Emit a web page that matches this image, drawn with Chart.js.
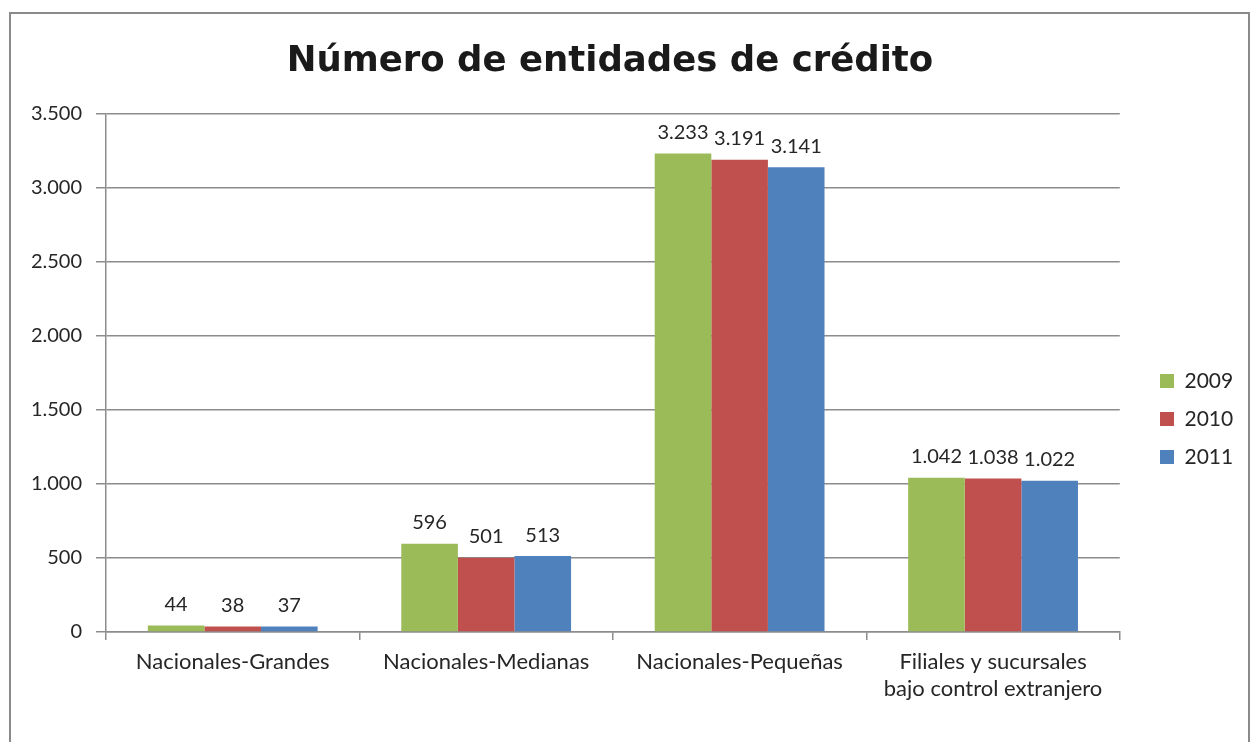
<!DOCTYPE html>
<html>
<head>
<meta charset="utf-8">
<script src="https://cdn.jsdelivr.net/npm/chart.js@4.4.0/dist/chart.umd.min.js"></script>
<style>
    html, body { margin: 0; padding: 0; background: #fff; }
    body { width: 1257px; height: 742px; position: relative; overflow: hidden; }
    #frame { position: absolute; left: 9px; top: 12px; width: 1237px; height: 760px; border: 2px solid #8a8a8a; }
    #wrap { position: absolute; left: 0; top: 0; width: 1257px; height: 742px; }
</style>
</head>
<body>
<div id="frame"></div>
<div id="wrap"><canvas id="barChart"></canvas></div>
<script>
// Datos del gráfico
const categories = [
    'Nacionales-Grandes',
    'Nacionales-Medianas',
    'Nacionales-Pequeñas',
    ['Filiales y sucursales', 'bajo control extranjero']
];
const years = ['2009', '2010', '2011'];
const values2009 = [44, 596, 3233, 1042];
const values2010 = [38, 501, 3191, 1038];
const values2011 = [37, 513, 3141, 1022];
const yTicks = [0, 500, 1000, 1500, 2000, 2500, 3000, 3500];

const colors = ['#9BBB59', '#C0504D', '#4F81BD'];
const FONT = 'Lato, "Open Sans", sans-serif';

// 3.233 style number
function fmt(v) {
    return String(v).replace(/\B(?=(\d{3})+(?!\d))/g, '.');
}

// value labels above bars
const barLabels = {
    id: 'barLabels',
    afterDatasetsDraw(chart) {
        const ctx = chart.ctx;
        ctx.save();
        ctx.font = '20px ' + FONT;
        ctx.fillStyle = '#262626';
        ctx.textAlign = 'center';
        ctx.textBaseline = 'bottom';
        chart.data.datasets.forEach((ds, i) => {
            chart.getDatasetMeta(i).data.forEach((bar, j) => {
                ctx.fillText(fmt(ds.data[j]), bar.x, bar.y - 11);
            });
        });
        ctx.restore();
    }
};

// move legend to where the original has it
const legendShift = {
    id: 'legendShift',
    afterLayout(chart) {
        const l = chart.legend;
        const dx = 1143 - l.left;
        const dy = 48;
        l.left += dx; l.right += dx;
        l.top += dy; l.bottom += dy;
    }
};

const ctx = document.getElementById('barChart').getContext('2d');
new Chart(ctx, {
    type: 'bar',
    data: {
        labels: categories,
        datasets: [
            { label: years[0], data: values2009, backgroundColor: colors[0] },
            { label: years[1], data: values2010, backgroundColor: colors[1] },
            { label: years[2], data: values2011, backgroundColor: colors[2] }
        ]
    },
    options: {
        responsive: true,
        maintainAspectRatio: false,
        animation: false,
        datasets: {
            bar: { barPercentage: 1, categoryPercentage: 0.67 }
        },
        layout: { padding: { left: 0, right: 37, top: 0, bottom: 0 } },
        plugins: {
            title: {
                display: true,
                text: 'Número de entidades de crédito',
                color: '#1a1a1a',
                font: { family: '"DejaVu Sans", sans-serif', size: 35.5, weight: 'bold' },
                padding: { top: 40, bottom: 31.4 }
            },
            legend: {
                position: 'right',
                labels: {
                    boxWidth: 14,
                    boxHeight: 14,
                    padding: 17,
                    color: '#262626',
                    font: { family: FONT, size: 21 }
                }
            },
            tooltip: { enabled: false }
        },
        scales: {
            x: {
                afterFit: s => { s.height = 110; },
                grid: {
                    drawOnChartArea: false,
                    drawTicks: true,
                    tickLength: 8,
                    color: '#8c8c8c',
                    lineWidth: 1.5
                },
                border: { color: '#8c8c8c', width: 1.5 },
                ticks: {
                    color: '#262626',
                    padding: 9,
                    maxRotation: 0,
                    font: { family: FONT, size: 22 }
                }
            },
            y: {
                min: 0,
                max: 3500,
                afterFit: s => { s.width = 106; },
                afterBuildTicks: s => { s.ticks = yTicks.map(v => ({ value: v })); },
                grid: {
                    color: '#8c8c8c',
                    lineWidth: 1.5,
                    tickLength: 10
                },
                border: { color: '#8c8c8c', width: 1.5 },
                ticks: {
                    color: '#262626',
                    padding: 14,
                    font: { family: FONT, size: 20 },
                    callback: v => fmt(v)
                }
            }
        }
    },
    plugins: [barLabels, legendShift]
});
</script>
</body>
</html>
